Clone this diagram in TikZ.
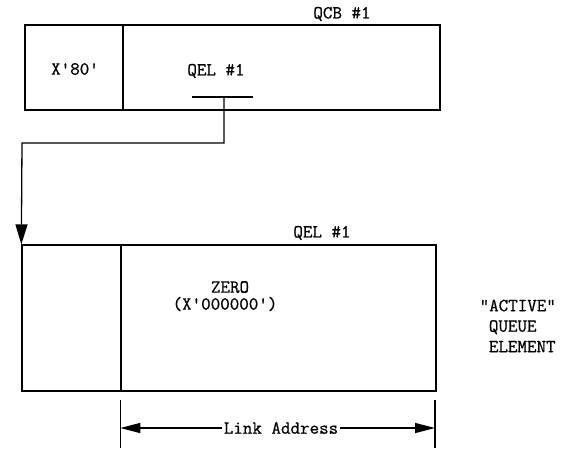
\documentclass[tikz,border=0pt]{standalone}
\usepackage{fontspec}
\newfontfamily\typewriter[FakeBold=0.7]{Latin Modern Mono}
\usetikzlibrary{arrows.meta}
\begin{document}
\begin{tikzpicture}[x=1pt,y=-1pt,
  line width=1.3pt,
  font=\typewriter\fontsize{18.5}{21}\selectfont,
  cell/.style={draw, rectangle, inner sep=0pt, line width=1.3pt},
  lbl/.style={inner sep=1pt, align=left},
  bigtip/.style={-{Triangle[length=20pt,width=12pt]}},
  dimtip/.style={-{Triangle[length=20pt,width=10pt]}}
]
\useasboundingbox (0,0) rectangle (572,451);

% control block
\node[cell, minimum width=98pt, minimum height=85pt] (qcbL) at (74,67.5) {};
\node[cell, minimum width=317pt, minimum height=85pt] (qcbR) at (281.5,67.5) {};
\node[lbl] (k80) at (75,69) {X\symbol{"27}80\symbol{"27}};
\node[lbl] (qptr) at (216,71) {QEL \#1};
\node[lbl] (qcbname) at (342,14) {QCB \#1};

% pointer field with tee
\coordinate (teeL) at (192,97);
\coordinate (teeR) at (253,97);
\coordinate (tee) at (224,97);
\coordinate (bend1) at (224,143);
\coordinate (bend2) at (22,143);
\draw (teeL) -- (teeR);

% queue element
\node[cell, minimum width=99pt, minimum height=146pt] (qelL) at (71.5,318) {};
\node[cell, minimum width=315pt, minimum height=146pt] (qelR) at (278.5,318) {};
\node[lbl] (qelname) at (322,233) {QEL \#1};
\node[lbl] (zero) at (230,287) {ZERO};
\node[lbl] (zerox) at (225,304) {(X\symbol{"27}000000\symbol{"27})};
\node[lbl, anchor=north west, align=left, font=\typewriter\fontsize{18.5}{20.5}\selectfont] (active) at (478,298)
  {\symbol{"22}ACTIVE\symbol{"22}\\\hspace*{0.5em}QUEUE\\\hspace*{0.5em}ELEMENT};

% link from pointer to element
\draw[bigtip] (tee) -- (bend1) -- (bend2) -- (qelL.north west);

% dimension line
\coordinate (dimLtop) at (qelR.west |- 0,400);
\coordinate (dimLbot) at (qelR.west |- 0,448);
\coordinate (dimRtop) at (435,400);
\coordinate (dimRbot) at (435,448);
\draw (dimLtop) -- (dimLbot);
\draw (dimRtop) -- (dimRbot);
\node[lbl] (link) at (281,428) {Link Address};
\draw[dimtip] (link.west) -- (qelR.west |- link.west);
\draw[dimtip] (link.east) -- (435,428);
\end{tikzpicture}
\end{document}
